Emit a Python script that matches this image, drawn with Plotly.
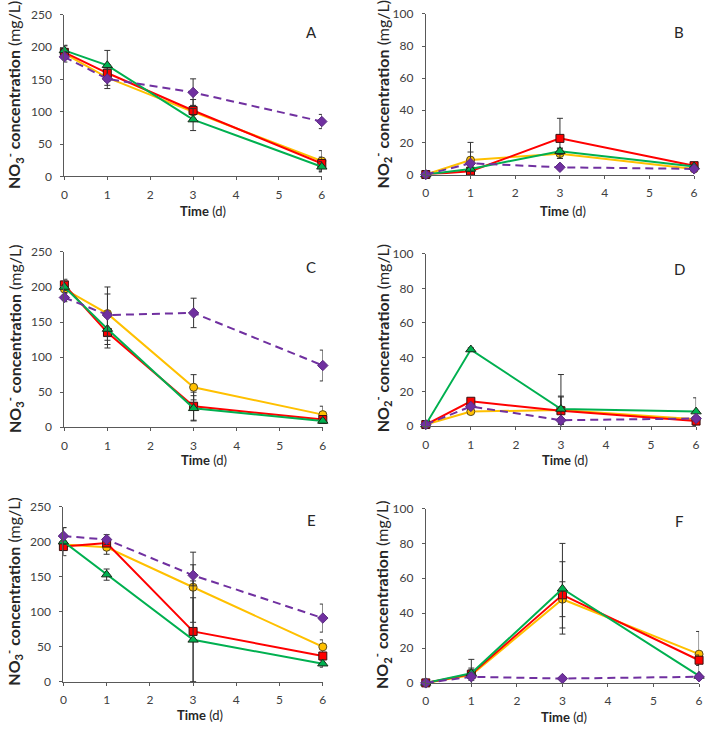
import plotly.graph_objects as go

# ---------------- data ----------------
time_d = [0, 1, 3, 6]

# Panel A (NO3-)
A_yel = [190, 153, 100, 24]; A_yel_err = [8, 12, 10, 16]
A_red = [192, 160, 102, 20]; A_red_err = [10, 13, 17, 10]
A_grn = [195, 172, 88, 15];  A_grn_err = [8, 23, 17, 8]
A_pur = [185, 151, 130, 85]; A_pur_err = [8, 15, 21, 11]

# Panel B (NO2-)
B_yel = [0, 9, 13, 3.5];   B_yel_err = [0.5, 11, 3, 1]
B_red = [0, 2, 22.5, 5.5]; B_red_err = [0.5, 1, 12.5, 1]
B_grn = [0, 3.5, 14.5, 5]; B_grn_err = [0.5, 1.5, 2, 1]
B_pur = [0, 7, 4.5, 3.5];  B_pur_err = [0.5, 7, 1, 1]

# Panel C (NO3-)
C_yel = [197, 162, 57, 18]; C_yel_err = [10, 38, 18, 12]
C_red = [203, 135, 30, 11]; C_red_err = [8, 22, 20, 3]
C_grn = [200, 140, 27, 9];  C_grn_err = [8, 22, 18, 3]
C_pur = [185, 160, 163, 88]; C_pur_err = [6, 30, 21, 22]

# Panel D (NO2-)
D_yel = [1, 8.5, 9.5, 4];   D_yel_err = [0.5, 1, 8, 1]
D_red = [1, 14.5, 9, 3];    D_red_err = [0.5, 1, 8, 1]
D_grn = [1, 44.5, 10, 8.5]; D_grn_err = [0.5, 1, 20, 8]
D_pur = [1, 11.5, 3.5, 4.5]; D_pur_err = [0.5, 1, 1, 1]

# Panel E (NO3-)
E_yel = [196, 192, 135, 50]; E_yel_err = [5, 10, 50, 10]
E_red = [193, 198, 72, 37];  E_red_err = [5, 5, 72, 5]
E_grn = [200, 153, 60, 26];  E_grn_err = [20, 8, 60, 5]
E_pur = [208, 203, 152, 91]; E_pur_err = [12, 7, 15, 20]

# Panel F (NO2-)
F_yel = [0, 4.5, 48, 16.5]; F_yel_err = [0.3, 3, 10, 13]
F_red = [0, 5, 50.5, 13];   F_red_err = [0.3, 8.5, 19, 3]
F_grn = [0, 5.5, 54, 4];    F_grn_err = [0.3, 3, 26, 1]
F_pur = [0, 3.5, 2.5, 3.5]; F_pur_err = [0.3, 1, 1, 1]

panel_letters = ["A", "B", "C", "D", "E", "F"]
x_ticks = [0, 1, 2, 3, 4, 5, 6]
no3_ticks = [0, 50, 100, 150, 200, 250]
no2_ticks = [0, 20, 40, 60, 80, 100]

# ---------------- styling ----------------
W, H = 709, 733
FONT = "Lato"
AX_COL = "#595959"
TXT_COL = "#404040"

series_style = [
    dict(color="#FFC000", symbol="circle", size=8, outline="#5a4a1a", dash="solid"),
    dict(color="#FF0000", symbol="square", size=8, outline="#3a1010", dash="solid"),
    dict(color="#00B050", symbol="triangle-up", size=9, outline="#1a2a1a", dash="solid"),
    dict(color="#7030A0", symbol="diamond", size=8, outline="#5a2a80", dash="8px,5px"),
]

# pixel boxes of plotting areas: (x0, x1, ytop, ybottom)
boxes = [
    (62, 322, 7, 172),
    (427, 698, 6, 170),
    (62, 323, 249, 428),
    (427, 700, 251, 427),
    (61, 323, 509, 688),
    (427, 703, 511, 689),
]

panels = [
    (A_yel, A_yel_err, A_red, A_red_err, A_grn, A_grn_err, A_pur, A_pur_err),
    (B_yel, B_yel_err, B_red, B_red_err, B_grn, B_grn_err, B_pur, B_pur_err),
    (C_yel, C_yel_err, C_red, C_red_err, C_grn, C_grn_err, C_pur, C_pur_err),
    (D_yel, D_yel_err, D_red, D_red_err, D_grn, D_grn_err, D_pur, D_pur_err),
    (E_yel, E_yel_err, E_red, E_red_err, E_grn, E_grn_err, E_pur, E_pur_err),
    (F_yel, F_yel_err, F_red, F_red_err, F_grn, F_grn_err, F_pur, F_pur_err),
]

is_no3 = [True, False, True, False, True, False]

# title positions (px)
xtitle_pos = [(202, 207), (566, 207), (203, 461), (568, 461), (199, 722), (567, 724)]
ytitle_pos = [(11, 89), (383, 88), (11, 338), (383, 337), (11, 596), (383, 599)]
letter_pos = [(312, 24), (683, 24), (311, 264), (683, 266), (312, 523), (683, 524)]

fig = go.Figure()
layout = dict(
    width=W, height=H,
    margin=dict(l=0, r=0, t=0, b=0),
    paper_bgcolor="white", plot_bgcolor="rgba(0,0,0,0)",
    showlegend=False,
    font=dict(family=FONT, size=12, color=TXT_COL),
)
annotations = []

for i, (box, data) in enumerate(zip(boxes, panels)):
    k = i + 1
    kk = k + 6
    x0, x1, yt, yb = box
    xdom = [x0 / W, x1 / W]
    ydom = [1 - yb / H, 1 - yt / H]
    yr = [0, 250] if is_no3[i] else [0, 100]
    yt_vals = no3_ticks if is_no3[i] else no2_ticks
    xs = "" if k == 1 else str(k)

    common_x = dict(domain=xdom, range=[0, 6], tickvals=x_ticks, showgrid=False,
                    zeroline=False, fixedrange=True, ticklen=3, tickwidth=1,
                    tickcolor=AX_COL)
    common_y = dict(domain=ydom, range=yr, tickvals=yt_vals, showgrid=False,
                    zeroline=False, fixedrange=True, ticklen=3, tickwidth=1,
                    tickcolor=AX_COL)

    layout["xaxis" + xs] = dict(common_x, anchor="y" + xs, showline=True,
                                linecolor=AX_COL, linewidth=1, ticks="outside",
                                tickfont=dict(family=FONT, size=12, color=TXT_COL),
                                ticklabelstandoff=4)
    layout["yaxis" + xs] = dict(common_y, anchor="x" + xs, showline=True,
                                linecolor=AX_COL, linewidth=1, ticks="outside",
                                tickfont=dict(family=FONT, size=12, color=TXT_COL),
                                ticklabelstandoff=6)
    # overlay axes giving the inner half of crossing tick marks
    layout["xaxis" + str(kk)] = dict(common_x, anchor="y" + xs, overlaying="x" + xs,
                                     showline=False, ticks="inside",
                                     showticklabels=False)
    layout["yaxis" + str(kk)] = dict(common_y, anchor="x" + xs, overlaying="y" + xs,
                                     showline=False, ticks="inside",
                                     showticklabels=False)

    ys = [data[0], data[2], data[4], data[6]]
    es = [data[1], data[3], data[5], data[7]]
    for st, yv, ev in zip(series_style, ys, es):
        fig.add_trace(go.Scatter(
            x=time_d, y=yv, mode="lines+markers",
            xaxis="x" + xs, yaxis="y" + xs,
            line=dict(color=st["color"], width=2, dash=st["dash"]),
            marker=dict(symbol=st["symbol"], size=st["size"], color=st["color"],
                        line=dict(color=st["outline"], width=1)),
            error_y=dict(type="data", array=ev, visible=True, color="#333333",
                         thickness=1, width=3),
            cliponaxis=False, hoverinfo="x+y",
        ))

    species = "NO<sub>3</sub><sup>-</sup>" if is_no3[i] else "NO<sub>2</sub><sup>-</sup>"
    ytxt = "<b>" + species + " concentration</b> (mg/L)"
    px, py = ytitle_pos[i]
    annotations.append(dict(text=ytxt, x=px / W, y=1 - py / H, xref="paper", yref="paper",
                            showarrow=False, textangle=-90, xanchor="center",
                            yanchor="middle",
                            font=dict(family=FONT, size=16, color="#262626")))
    px, py = xtitle_pos[i]
    annotations.append(dict(text="<b>Time</b> (d)", x=px / W, y=1 - py / H,
                            xref="paper", yref="paper", showarrow=False,
                            xanchor="center", yanchor="middle",
                            font=dict(family=FONT, size=13, color="#262626")))
    px, py = letter_pos[i]
    annotations.append(dict(text=panel_letters[i], x=px / W, y=1 - py / H,
                            xref="paper", yref="paper", showarrow=False,
                            xanchor="center", yanchor="middle",
                            font=dict(family=FONT, size=15, color="#262626")))

layout["annotations"] = annotations
fig.update_layout(**layout)
fig.write_html("out.html",
               config={"displayModeBar": False},
               post_script="document.documentElement.style.margin='0';"
                           "document.body.style.margin='0';"
                           "document.body.style.padding='0';"
                           "document.body.style.overflow='hidden';")
